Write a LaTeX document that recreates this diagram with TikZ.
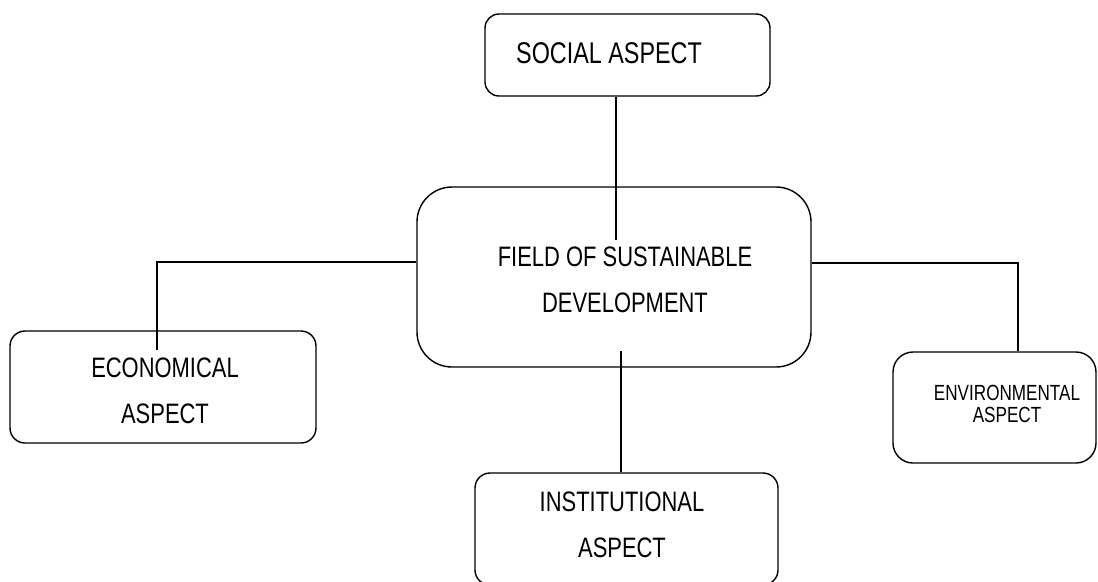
\documentclass[tikz,border=0pt]{standalone}
\usepackage{fontspec}
\setmainfont{Liberation Sans}[FakeStretch=0.78]

\newlength{\pxunit}
\setlength{\pxunit}{0.025cm}

\tikzset{
  aspect/.style={draw, line width=1pt, rounded corners=#1, inner sep=0pt},
  aspect/.default=14\pxunit,
  aspecttext/.style={align=center, font=\fontsize{20}{32.7}\selectfont},
  link/.style={line width=1pt},
}

\begin{document}
\begin{tikzpicture}[x=\pxunit, y=-\pxunit]
\useasboundingbox (0,0) rectangle (1098,581);
%
\node [aspect, minimum width=285\pxunit, minimum height=82\pxunit] (social) at (627.5,55) {};
\node [aspect=35\pxunit, minimum width=394\pxunit, minimum height=180\pxunit] (field) at (614,277) {};
\node [aspect=15\pxunit, minimum width=306\pxunit, minimum height=112\pxunit] (economical) at (163,387) {};
\node [aspect=20\pxunit, minimum width=203\pxunit, minimum height=111\pxunit] (environmental) at (994.5,407.5) {};
\node [aspect=15\pxunit, minimum width=303\pxunit, minimum height=112\pxunit] (institutional) at (626.5,529) {};
%
\node [aspecttext, font=\fontsize{21.3}{24}\selectfont] (socialtext) at (609,53) {SOCIAL ASPECT};
\node [aspecttext] (fieldtext) at (625,280) {FIELD OF SUSTAINABLE\\DEVELOPMENT};
\node [aspecttext] (economicaltext) at (165,390.5) {ECONOMICAL\\ASPECT};
\node [aspecttext, font=\fontsize{15.6}{15.8}\selectfont] (environmentaltext) at (1007,404) {ENVIRONMENTAL\\ASPECT};
\node [aspecttext] (institutionaltext) at (622,524.5) {INSTITUTIONAL\\ASPECT};
%
\coordinate (socialend) at (616,240);
\coordinate (fieldend) at (621,351);
\coordinate (ecoknee) at (157,262);
\coordinate (ecoend) at (157,350);
\coordinate (envknee) at (1018,263);
%
\draw [link] (social.south -| socialend) -- (socialend);
\draw [link] (fieldend) -- (institutional.north -| fieldend);
\draw [link] (field.west |- ecoknee) -- (ecoknee) -- (ecoend);
\draw [link] (field.east |- envknee) -- (envknee) -- (environmental.north -| envknee);
%
\end{tikzpicture}
\end{document}
